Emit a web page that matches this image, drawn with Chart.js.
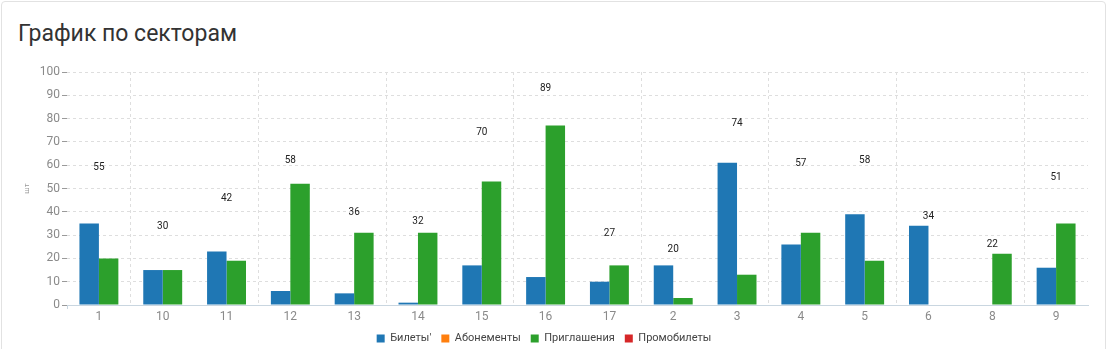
<!DOCTYPE html>
<html>
<head>
<meta charset="utf-8">
<script src="https://cdn.jsdelivr.net/npm/chart.js@4/dist/chart.umd.min.js"></script>
<style>
  html, body { margin: 0; padding: 0; background: #fff; }
  body { width: 1110px; height: 349px; overflow: hidden; position: relative; font-family: Roboto, sans-serif; }
  .card {
    position: absolute; left: 1px; top: 1px; width: 1105px; height: 380px;
    border: 1px solid #e2e2e2; border-radius: 4px; box-sizing: border-box;
  }
  .title {
    position: absolute; left: 18px; top: 19px; margin: 0;
    font: 400 23px Roboto, sans-serif; color: #333; line-height: 30px;
  }
  .chart-box { position: absolute; left: 0; top: 55px; width: 1100px; height: 299px; }
</style>
</head>
<body>
<div class="card"></div>
<h3 class="title">График по секторам</h3>
<div class="chart-box"><canvas id="sectors"></canvas></div>
<script>
    "use strict";

    var categories = ["1", "10", "11", "12", "13", "14", "15", "16", "17", "2", "3", "4", "5", "6", "8", "9"];
    var ticketsValues = [35, 15, 23, 6, 5, 1, 17, 12, 10, 17, 61, 26, 39, 34, null, 16];
    var subscriptionValues = [];
    var invitationValues = [20, 15, 19, 52, 31, 31, 53, 77, 17, 3, 13, 31, 19, null, 22, 35];
    var promoValues = [];
    var yTicks = [0, 10, 20, 30, 40, 50, 60, 70, 80, 90, 100];

    var tickColor = "#8a8a8a";
    var gridColor = "#dedede";
    var axisColor = "#c9d6e0";

    // sum of all series per sector, printed above the group
    var totalsPlugin = {
        id: "totals",
        afterDatasetsDraw: function (chart) {
            var ctx = chart.ctx;
            var xs = chart.scales.x, ys = chart.scales.y;
            ctx.save();
            ctx.font = "10px Roboto, sans-serif";
            ctx.fillStyle = "#222";
            ctx.textAlign = "center";
            ctx.textBaseline = "middle";
            for (var i = 0; i < categories.length; i++) {
                var total = 0;
                chart.data.datasets.forEach(function (ds) {
                    total += ds.data[i] || 0;
                });
                ctx.fillText(String(total), xs.getPixelForValue(i), ys.getPixelForValue(total) - 9);
            }
            ctx.restore();
        }
    };

    var ctx = document.getElementById("sectors").getContext("2d");
    new Chart(ctx, {
        type: "bar",
        data: {
            labels: categories,
            datasets: [
                { label: "Билеты'", data: ticketsValues, backgroundColor: "#1f77b4" },
                { label: "Абонементы", data: subscriptionValues, backgroundColor: "#ff7f0e", grouped: false },
                { label: "Приглашения", data: invitationValues, backgroundColor: "#2ca02c" },
                { label: "Промобилеты", data: promoValues, backgroundColor: "#d62728", grouped: false }
            ]
        },
        options: {
            responsive: true,
            maintainAspectRatio: false,
            animation: false,
            categoryPercentage: 0.61,
            barPercentage: 1,
            layout: { padding: { top: 17, right: 12, bottom: 0, left: 0 } },
            plugins: {
                legend: {
                    position: "bottom",
                    labels: {
                        boxWidth: 8, boxHeight: 8, padding: 10,
                        color: "#444",
                        font: { family: "Roboto, sans-serif", size: 11 }
                    }
                },
                tooltip: { enabled: false }
            },
            scales: {
                x: {
                    grid: {
                        offset: true,
                        color: function (c) { return c.index % 2 === 1 ? gridColor : "transparent"; },
                        tickColor: function (c) { return c.index === 0 ? axisColor : "transparent"; },
                        tickLength: 4
                    },
                    border: { display: true, color: axisColor, dash: [3, 3] },
                    ticks: {
                        color: tickColor, padding: 1,
                        font: { family: "Roboto, sans-serif", size: 12 }
                    },
                    afterFit: function (scale) { scale.height = 18; }
                },
                y: {
                    min: 0, max: 100,
                    afterBuildTicks: function (scale) {
                        scale.ticks = yTicks.map(function (v) { return { value: v }; });
                    },
                    grid: {
                        color: gridColor, tickColor: "#9a9a9a", tickLength: 5,
                        tickBorderDash: [], tickWidth: 1
                    },
                    border: { display: false, dash: [3, 3] },
                    ticks: {
                        color: tickColor, padding: 2,
                        font: { family: "Roboto, sans-serif", size: 12 }
                    },
                    title: {
                        display: true, text: "шт", color: "#999",
                        font: { family: "Roboto, sans-serif", size: 8 },
                        padding: { top: 22, bottom: 0 }
                    },
                    afterFit: function (scale) { scale.width = 67; }
                }
            }
        },
        plugins: [totalsPlugin]
    });
</script>
</body>
</html>
